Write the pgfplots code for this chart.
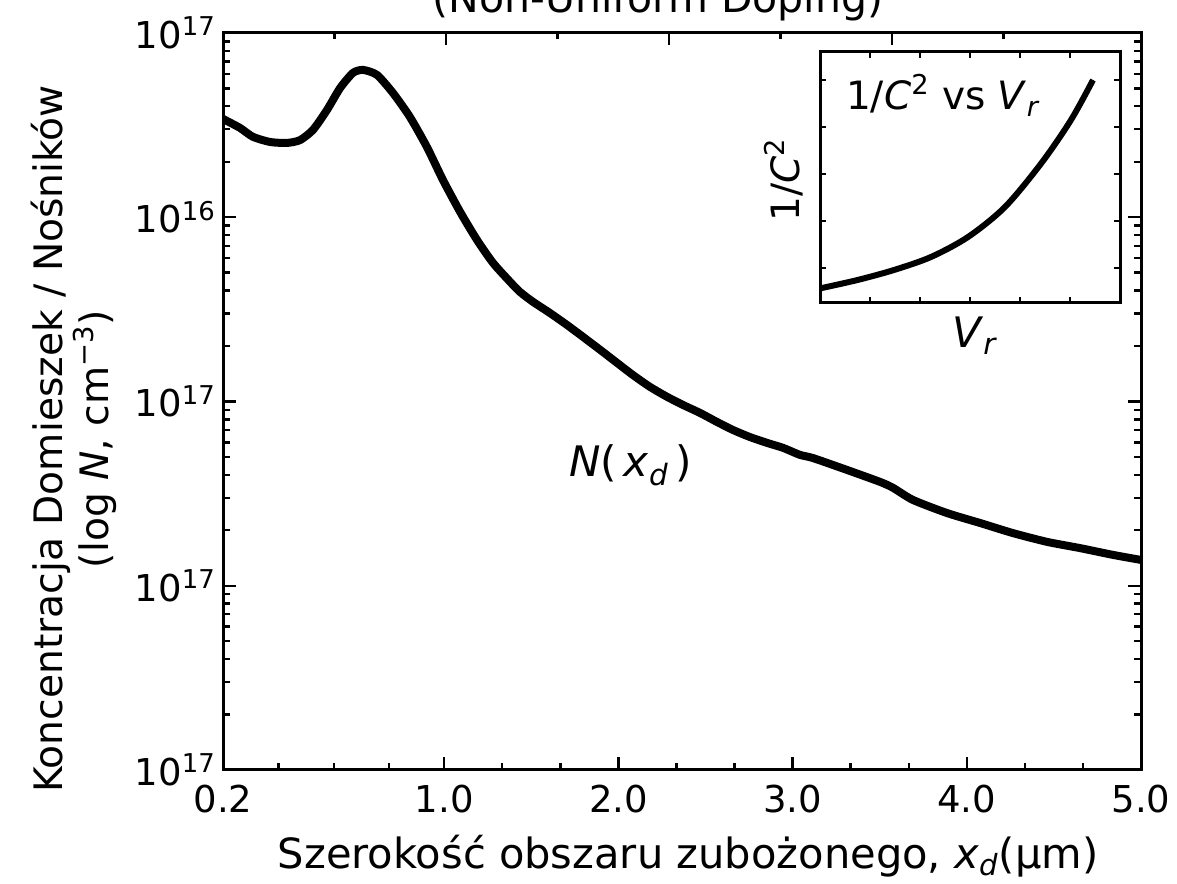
\documentclass[border=0pt]{standalone}
\usepackage{fontspec}
\setmainfont{DejaVu Sans}
\usepackage{pgfplots}
\usepackage{pgfplotstable}
\pgfplotsset{compat=1.18}

\newcommand{\fs}{\fontsize{18.5}{22}\selectfont}
\newcommand{\fl}{\fontsize{20.5}{24}\selectfont}

% N(x_d); x is the axis position (1..5 = um, 0.2 sits at -0.27)
\pgfplotstableread{
x y
-0.270 3.42e16
-0.258 3.37e16
-0.172 3.05e16
-0.098 2.73e16
0.000 2.56e16
0.097 2.53e16
0.172 2.62e16
0.247 2.98e16
0.327 3.82e16
0.402 5.02e16
0.476 6.07e16
0.534 6.30e16
0.614 5.92e16
0.706 4.72e16
0.803 3.50e16
0.901 2.40e16
0.993 1.59e16
1.091 1.07e16
1.188 7.53e15
1.280 5.65e15
1.378 4.46e15
1.435 3.93e15
1.510 3.47e15
1.607 3.02e15
1.705 2.60e15
1.797 2.24e15
1.894 1.91e15
1.992 1.62e15
2.084 1.39e15
2.181 1.20e15
2.279 1.06e15
2.371 9.57e14
2.468 8.67e14
2.566 7.74e14
2.658 7.00e14
2.755 6.41e14
2.853 5.96e14
2.945 5.60e14
3.042 5.13e14
3.117 4.93e14
3.312 4.25e14
3.502 3.66e14
3.576 3.40e14
3.691 2.92e14
3.886 2.48e14
4.076 2.19e14
4.265 1.93e14
4.460 1.73e14
4.650 1.60e14
4.839 1.47e14
5.000 1.38e14
}\profile

% inset 1/C^2 vs V_r
\pgfplotstableread{
x y
0.00 0.565
0.75 0.744
1.48 0.957
2.22 1.234
2.96 1.659
3.70 2.298
4.43 3.234
5.02 4.149
5.46 4.999
}\inset

\begin{document}
\begin{tikzpicture}
\pgfplotsset{
  every tick/.style={black, line width=1.2pt},
  axis line style={line width=1.5pt},
  tick align=inside,
  tick label style={font=\fs},
}
\begin{axis}[
  at={(111.5pt,56.5pt)}, anchor=south west, scale only axis,
  width=459pt, height=368.5pt,
  xmin=-0.27, xmax=5, ymode=log, ymin=1e13, ymax=1e17,
  xtick={-0.27,1,2,3,4,5},
  xticklabels={0.2,1.0,2.0,3.0,4.0,5.0},
  minor xtick={0.048,0.366,0.684,1.333,1.667,2.333,2.667,3.333,3.667,4.333,4.667},
  ytick={1e13,1e14,1e15,1e16,1e17},
  yticklabels={10\textsuperscript{17},10\textsuperscript{17},10\textsuperscript{17},10\textsuperscript{16},10\textsuperscript{17}},
  xtick pos=bottom, ytick pos=both,
  major tick length=6.5pt, minor tick length=3.5pt,
  xticklabel style={yshift=-4pt},
]
\addplot[black, line width=4pt, line join=round, smooth, tension=0.4] table {\profile};
\end{axis}
% top edge carries its own tick spacing
\begin{axis}[
  at={(111.5pt,56.5pt)}, anchor=south west, scale only axis,
  width=459pt, height=368.5pt,
  xmin=0, xmax=8.233, ymin=0, ymax=1,
  hide y axis, axis x line*=top,
  xtick={2,4,6}, minor xtick={1,3,5,7}, xticklabels={},
  major tick length=6pt, minor tick length=3pt,
]
\end{axis}
\begin{axis}[
  at={(410pt,290pt)}, anchor=south west, scale only axis,
  width=150pt, height=125.5pt,
  xmin=0, xmax=6, ymin=0.255, ymax=5.595,
  xtick={1,...,5}, ytick={1,...,5},
  xticklabels={}, yticklabels={},
  major tick length=3pt,
  axis background/.style={fill=white},
]
\addplot[black, line width=3pt, smooth] table {\inset};
\end{axis}

\node[font=\fl, anchor=base] at (329pt,435pt) {(Non-Uniform Doping)};
\node[font=\fontsize{19.5}{23}\selectfont, anchor=base west] at (419.5pt,386.5pt) {1/\textit{C}\textsuperscript{2} vs \textit{V}\textsubscript{\textit{r}}};
\node[font=\fontsize{19.5}{23}\selectfont, rotate=90] at (392pt,351.5pt) {1/\textit{C}\textsuperscript{2}};
\node[font=\fontsize{21}{24}\selectfont, anchor=base] at (487.5pt,267.5pt) {\textit{V}\textsubscript{\textit{r}}};
\node[font=\fontsize{21}{24}\selectfont, anchor=base west] at (281pt,203pt) {\textit{N}(\,\textit{x}\textsubscript{\textit{d}}\,)};
\node[font=\fontsize{20.8}{24}\selectfont, anchor=base] at (344pt,7.5pt) {Szerokość obszaru zubożonego, \textit{x}\textsubscript{\textit{d}}(μm)};
\node[font=\fontsize{19.6}{21}\selectfont, rotate=90, align=center] at (37pt,222pt)
  {Koncentracja Domieszek / Nośników\\(log \textit{N}, cm\textsuperscript{−3})};

\pgfresetboundingbox
\path[use as bounding box] (0,0) rectangle (588.5pt,441.5pt);
\end{tikzpicture}
\end{document}
